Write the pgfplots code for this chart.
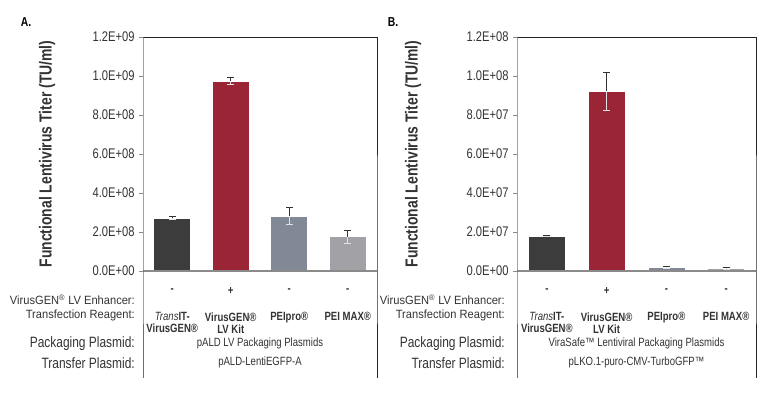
\documentclass[border=0pt]{standalone}
\usepackage{pgfplots}
\pgfplotsset{compat=1.18}
\usepackage{fontspec}
\setmainfont{Liberation Sans}[FakeStretch=0.8]
\newfontfamily\widefont{Liberation Sans}[FakeStretch=0.93]
\definecolor{cDark}{HTML}{3C3C3C}
\definecolor{cRed}{HTML}{992537}
\definecolor{cSlate}{HTML}{828996}
\definecolor{cGray}{HTML}{A2A1A5}
\definecolor{cText}{HTML}{333333}
\definecolor{cZero}{HTML}{8A8A8A}
\definecolor{cErrLo}{HTML}{E2E2E2}

\pgfplotsset{
  panel/.style={
    scale only axis, height=234bp,
    xmin=-0.5, xmax=3.5, ymin=0,
    clip=false,
    axis line style={draw=none},
    xtick={0,1,2,3},
    xtick style={draw=none},
    xticklabel style={align=center, anchor=north, yshift=-34bp, font=\fontsize{12}{12}\selectfont\bfseries, text=cText},
    scaled y ticks=false,
    ytick pos=left,
    tick align=outside,
    ytick style={draw=cZero, line width=0.8bp},
    major tick length=4bp,
    yticklabel style={font=\fontsize{14}{14}\selectfont, text=cText, xshift=-1bp},
    /pgf/number format/assume math mode=true,
  },
  barA/.style={ybar, bar width=37bp, bar shift=0pt, draw=white, line width=0.6bp, fill=#1,
    error bars/.cd, y dir=plus, y explicit,
    error bar style={draw=cText, line width=1bp},
    error mark options={draw=cText, rotate=90, mark size=3.5bp, line width=1bp}},
  errLo/.style={draw=none, mark=none, forget plot,
    error bars/.cd, y dir=minus, y explicit,
    error bar style={draw=cErrLo, line width=1bp},
    error mark options={draw=cErrLo, rotate=90, mark size=3.5bp, line width=1bp}},
}

\newcommand{\reg}{\textsuperscript{®}}

\begin{document}
\begin{tikzpicture}
\path[use as bounding box] (0,0) rectangle (763bp,396bp);

% ---------- Panel A ----------
\begin{axis}[panel, at={(143bp,125bp)}, anchor=south west, width=234bp,
  ymax=1.2e9,
  ytick={0,2e8,4e8,6e8,8e8,1e9,1.2e9},
  yticklabels={0.0E+00,2.0E+08,4.0E+08,6.0E+08,8.0E+08,1.0E+09,1.2E+09},
  xticklabels={{\textit{\mdseries Trans}IT-\\VirusGEN®},{VirusGEN®\\LV Kit},{PEIpro®},{PEI MAX®}},
]
\addplot[barA=cDark]  coordinates {(0,2.72e8) +- (0,1.0e7)};
\addplot[barA=cRed]   coordinates {(1,9.74e8) +- (0,2.0e7)};
\addplot[barA=cSlate] coordinates {(2,2.80e8) +- (0,4.4e7)};
\addplot[barA=cGray]  coordinates {(3,1.76e8) +- (0,3.4e7)};
\addplot[errLo] coordinates {(0,2.72e8) +- (0,1.0e7) (1,9.74e8) +- (0,2.0e7) (2,2.80e8) +- (0,4.4e7) (3,1.76e8) +- (0,3.4e7)};
\draw[cZero, line width=1.2bp] (rel axis cs:0,0) -- (rel axis cs:1,0);
\draw[black!85, line width=0.8bp] (rel axis cs:0,1) -- (rel axis cs:1,1) -- (rel axis cs:1,0) -- ([yshift=-107bp]rel axis cs:1,0);
\draw[cZero!80!black, line width=0.8bp] (rel axis cs:0,1) -- (rel axis cs:0,0) -- ([yshift=-107bp]rel axis cs:0,0);
\foreach \i/\s in {0/-,1/+,2/-,3/-}{
  \edef\tmp{\noexpand\node[text=cText, font=\noexpand\fontsize{12}{12}\noexpand\selectfont\noexpand\bfseries] at (axis cs:\i,0) [yshift=-20bp] {\s};}\tmp
}
\node[text=cText, font=\fontsize{12}{12}\selectfont] at (rel axis cs:0.5,0) [yshift=-72bp] {pALD LV Packaging Plasmids};
\node[text=cText, font=\fontsize{12}{12}\selectfont] at (rel axis cs:0.5,0) [yshift=-91bp] {pALD-LentiEGFP-A};
\end{axis}

\node[font=\fontsize{13}{13}\selectfont\bfseries, text=black] at (26bp,374bp) {A.};
\node[rotate=90, font=\fontsize{17.5}{17.5}\selectfont\bfseries, text=cText] at (47bp,242bp) {Functional Lentivirus Titer (TU/ml)};
\node[anchor=east, text=cText, font=\widefont\fontsize{12}{12}\selectfont, inner sep=1bp] at (136bp,96bp) {VirusGEN\reg{} LV Enhancer:};
\node[anchor=east, text=cText, font=\widefont\fontsize{12}{12}\selectfont, inner sep=1bp] at (136bp,81bp) {Transfection Reagent:};
\node[anchor=east, text=cText, font=\fontsize{15}{15}\selectfont, inner sep=1bp] at (136bp,52bp) {Packaging Plasmid:};
\node[anchor=east, text=cText, font=\fontsize{15}{15}\selectfont, inner sep=1bp] at (136bp,33bp) {Transfer Plasmid:};

% ---------- Panel B ----------
\begin{axis}[panel, at={(517bp,125bp)}, anchor=south west, width=239bp,
  ymax=1.2e8,
  ytick={0,2e7,4e7,6e7,8e7,1e8,1.2e8},
  yticklabels={0.0E+00,2.0E+07,4.0E+07,6.0E+07,8.0E+07,1.0E+08,1.2E+08},
  xticklabels={{\textit{\mdseries Trans}IT-\\VirusGEN®},{VirusGEN®\\LV Kit},{PEIpro®},{PEI MAX®}},
]
\addplot[barA=cDark]  coordinates {(0,1.80e7) +- (0,3e5)};
\addplot[barA=cRed]   coordinates {(1,9.22e7) +- (0,9.8e6)};
\addplot[barA=cSlate] coordinates {(2,1.8e6) +- (0,3e5)};
\addplot[barA=cGray]  coordinates {(3,1.3e6) +- (0,4e5)};
\addplot[errLo] coordinates {(0,1.80e7) +- (0,3e5) (1,9.22e7) +- (0,9.8e6) (2,1.8e6) +- (0,3e5) (3,1.3e6) +- (0,4e5)};
\draw[cZero, line width=1.2bp] (rel axis cs:0,0) -- (rel axis cs:1,0);
\draw[black!85, line width=0.8bp] (rel axis cs:0,1) -- (rel axis cs:1,1) -- (rel axis cs:1,0) -- ([yshift=-107bp]rel axis cs:1,0);
\draw[cZero!80!black, line width=0.8bp] (rel axis cs:0,1) -- (rel axis cs:0,0) -- ([yshift=-107bp]rel axis cs:0,0);
\foreach \i/\s in {0/-,1/+,2/-,3/-}{
  \edef\tmp{\noexpand\node[text=cText, font=\noexpand\fontsize{12}{12}\noexpand\selectfont\noexpand\bfseries] at (axis cs:\i,0) [yshift=-20bp] {\s};}\tmp
}
\node[text=cText, font=\fontsize{12}{12}\selectfont] at (rel axis cs:0.5,0) [yshift=-72bp] {ViraSafe™ Lentiviral Packaging Plasmids};
\node[text=cText, font=\fontsize{12}{12}\selectfont] at (rel axis cs:0.5,0) [yshift=-91bp] {pLKO.1-puro-CMV-TurboGFP™};
\end{axis}

\node[font=\fontsize{13}{13}\selectfont\bfseries, text=black] at (393bp,374bp) {B.};
\node[rotate=90, font=\fontsize{17.5}{17.5}\selectfont\bfseries, text=cText] at (413bp,242bp) {Functional Lentivirus Titer (TU/ml)};
\node[anchor=east, text=cText, font=\widefont\fontsize{12}{12}\selectfont, inner sep=1bp] at (506bp,96bp) {VirusGEN\reg{} LV Enhancer:};
\node[anchor=east, text=cText, font=\widefont\fontsize{12}{12}\selectfont, inner sep=1bp] at (506bp,81bp) {Transfection Reagent:};
\node[anchor=east, text=cText, font=\fontsize{15}{15}\selectfont, inner sep=1bp] at (506bp,52bp) {Packaging Plasmid:};
\node[anchor=east, text=cText, font=\fontsize{15}{15}\selectfont, inner sep=1bp] at (506bp,33bp) {Transfer Plasmid:};
\end{tikzpicture}
\end{document}
